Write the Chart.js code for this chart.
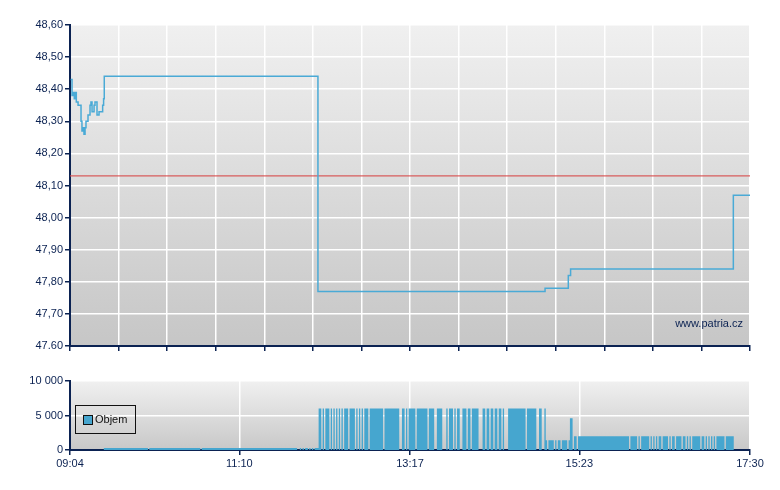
<!DOCTYPE html>
<html>
<head>
<meta charset="utf-8">
<script src="https://cdn.jsdelivr.net/npm/chart.js@4.4.1/dist/chart.umd.min.js"></script>
<style>
  body { margin: 0; background: #fff; }
  #wrap { position: relative; width: 780px; height: 490px; font-family: 'Liberation Sans', Arial, sans-serif; color: #0b2252; }
  #priceChart { position: absolute; left: 0; top: 0; }
  #volumeChart { position: absolute; left: 0; top: 360px; }
  #watermark { position: absolute; right: 37px; top: 317px; font-size: 11px; line-height: 13px; }
  #legend { position: absolute; left: 75px; top: 405px; width: 61px; height: 29px; box-sizing: border-box; border: 1px solid #111; font-size: 11px; }
  #legend span.box { position: absolute; left: 7px; top: 9px; width: 8px; height: 8px; border: 1px solid #111; }
  #legend span.txt { position: absolute; left: 19px; top: 7px; line-height: 13px; color: #111; }
</style>
</head>
<body>
<div id="wrap">
  <canvas id="priceChart" width="780" height="360"></canvas>
  <canvas id="volumeChart" width="780" height="130"></canvas>
  <div id="watermark">www.patria.cz</div>
  <div id="legend"></div>
</div>
<script>
// trade prices (price holds until next trade)
const priceTimes = ['09:04:30', '09:05:30', '09:06:30', '09:07:12', '09:08:00', '09:08:42', '09:10:00',
    '09:12:12', '09:12:54', '09:13:42', '09:14:24', '09:15:12', '09:15:54', '09:17:24', '09:18:54',
    '09:19:36', '09:20:24', '09:21:54', '09:22:36', '09:24:06', '09:25:36', '09:27:06', '09:28:18',
    '09:29:00', '09:29:30', '12:08:30', '14:57:30', '15:14:48', '15:16:30', '17:17:36', '17:30:00'];
const priceValues = [48.43, 48.38, 48.39, 48.37, 48.39, 48.36, 48.35,
    48.30, 48.27, 48.28, 48.26, 48.28, 48.30, 48.32, 48.35,
    48.36, 48.33, 48.35, 48.36, 48.32, 48.33, 48.33, 48.35,
    48.37, 48.44, 47.77, 47.78, 47.82, 47.84, 48.07, 48.07];
const prevClose = 48.13;

const priceTicks = [47.6, 47.7, 47.8, 47.9, 48.0, 48.1, 48.2, 48.3, 48.4, 48.5, 48.6];
const priceTickLabels = ['47.60', '47,70', '47,80', '47,90', '48,00', '48,10', '48,20', '48,30', '48,40', '48,50', '48,60'];

// volume: [from, to, amount] per run of minutes with trades
const volumeRuns = [
    ['09:29', '10:02', 300], ['10:03', '10:41', 300], ['10:42', '11:53', 300], ['11:55', '11:56', 300],
    ['11:57', '11:58', 300], ['11:59', '12:01', 300], ['12:02', '12:03', 300], ['12:04', '12:05', 300],
    ['12:06', '12:09', 300],
    ['12:09', '12:11', 6000], ['12:12', '12:13', 6000], ['12:14', '12:17', 6000], ['12:18', '12:19', 6000],
    ['12:20', '12:21', 6000], ['12:22', '12:23', 6000], ['12:24', '12:25', 6000], ['12:26', '12:27', 6000],
    ['12:28', '12:31', 6000], ['12:32', '12:36', 6000], ['12:37', '12:38', 6000], ['12:39', '12:40', 6000],
    ['12:41', '12:42', 6000], ['12:43', '12:46', 6000], ['12:47', '12:57', 6000], ['12:58', '13:09', 6000],
    ['13:11', '13:13', 6000], ['13:14', '13:15', 6000], ['13:16', '13:21', 6000], ['13:22', '13:30', 6000],
    ['13:31', '13:35', 6000], ['13:37', '13:41', 6000], ['13:44', '13:45', 6000], ['13:46', '13:49', 6000],
    ['13:50', '13:51', 6000], ['13:52', '13:54', 6000], ['13:56', '13:59', 6000], ['14:00', '14:02', 6000],
    ['14:03', '14:08', 6000], ['14:11', '14:13', 6000], ['14:14', '14:16', 6000], ['14:17', '14:19', 6000],
    ['14:20', '14:22', 6000], ['14:23', '14:25', 6000], ['14:26', '14:27', 6000], ['14:30', '14:43', 6000],
    ['14:44', '14:51', 6000], ['14:53', '14:55', 6000], ['14:57', '14:58', 6000],
    ['14:58', '14:59', 1400], ['15:00', '15:04', 1400], ['15:05', '15:06', 1400], ['15:07', '15:09', 1400],
    ['15:10', '15:14', 1400], ['15:15', '15:16', 1400],
    ['15:16', '15:18', 4600],
    ['15:19', '15:21', 2000], ['15:22', '16:00', 2000], ['16:01', '16:06', 2000], ['16:07', '16:08', 2000],
    ['16:09', '16:15', 2000], ['16:16', '16:17', 2000], ['16:18', '16:19', 2000], ['16:20', '16:21', 2000],
    ['16:22', '16:24', 2000], ['16:25', '16:29', 2000], ['16:30', '16:31', 2000], ['16:32', '16:34', 2000],
    ['16:35', '16:39', 2000], ['16:40', '16:42', 2000], ['16:43', '16:44', 2000], ['16:45', '16:46', 2000],
    ['16:47', '16:53', 2000], ['16:54', '16:56', 2000], ['16:57', '16:58', 2000], ['16:59', '17:00', 2000],
    ['17:01', '17:02', 2000], ['17:03', '17:04', 2000], ['17:05', '17:11', 2000], ['17:12', '17:18', 2000]
];
const volumeTicks = [0, 5000, 10000];
const volumeTickLabels = ['0', '5 000', '10 000'];
const timeTickLabels = ['09:04', '11:10', '13:17', '15:23', '17:30'];

const navy = '#0b2252';
const lineBlue = '#4aaad6';
const barBlue = '#46a6cf';

function toMin(t) {
    const p = t.split(':').map(Number);
    return p[0] * 60 + p[1] + (p[2] || 0) / 60;
}

const tMin = toMin(timeTickLabels[0]);
const tMax = toMin(timeTickLabels[timeTickLabels.length - 1]);

// 14 equal intervals on the price chart's time axis
const priceGridTimes = [];
for (let i = 0; i <= 14; i++) {
    priceGridTimes.push(tMin + i * (tMax - tMin) / 14);
}

const plotBackground = {
    id: 'plotBackground',
    beforeDraw(chart, args, opts) {
        const { ctx, chartArea: a } = chart;
        const g = ctx.createLinearGradient(0, a.top, 0, a.bottom);
        g.addColorStop(0, opts.from);
        g.addColorStop(1, opts.to);
        ctx.save();
        ctx.fillStyle = g;
        ctx.fillRect(a.left, a.top, a.right - a.left, a.bottom - a.top);
        ctx.restore();
    }
};

const tickFont = { family: "'Liberation Sans', Arial, sans-serif", size: 11 };

new Chart(document.getElementById('priceChart'), {
    type: 'line',
    data: {
        datasets: [{
            label: 'Kurz',
            data: priceTimes.map((t, i) => ({ x: toMin(t), y: priceValues[i] })),
            borderColor: lineBlue,
            borderWidth: 1.5,
            pointRadius: 0,
            stepped: true
        }, {
            label: 'Předchozí závěr',
            data: [{ x: tMin, y: prevClose }, { x: tMax, y: prevClose }],
            borderColor: 'rgba(215, 70, 70, 0.85)',
            borderWidth: 1.2,
            pointRadius: 0
        }]
    },
    options: {
        responsive: false,
        animation: false,
        layout: { padding: { top: 25, right: 30, left: 0, bottom: 0 } },
        plugins: {
            legend: { display: false },
            tooltip: { enabled: false },
            plotBackground: { from: '#f0f0f0', to: '#c6c6c6' }
        },
        scales: {
            x: {
                type: 'linear',
                min: tMin,
                max: tMax,
                afterBuildTicks: s => { s.ticks = priceGridTimes.map(v => ({ value: v })); },
                afterFit: s => { s.height = 14; },
                ticks: { display: false },
                grid: { color: '#ffffff', lineWidth: 1.5, tickColor: navy, tickLength: 5 },
                border: { color: navy, width: 2 }
            },
            y: {
                min: priceTicks[0],
                max: priceTicks[priceTicks.length - 1],
                afterBuildTicks: s => { s.ticks = priceTicks.map(v => ({ value: v })); },
                afterFit: s => { s.width = 70; },
                ticks: {
                    callback: (v, i) => priceTickLabels[i],
                    color: navy,
                    font: tickFont,
                    padding: 2
                },
                grid: { color: '#ffffff', lineWidth: 1.5, tickColor: navy, tickLength: 5 },
                border: { color: navy, width: 2 }
            }
        }
    },
    plugins: [plotBackground]
});

const volumePoints = [];
volumeRuns.forEach(([from, to, v]) => {
    volumePoints.push({ x: toMin(from), y: v }, { x: toMin(to), y: 0 });
});

const volumeChart = new Chart(document.getElementById('volumeChart'), {
    type: 'line',
    data: {
        datasets: [{
            label: 'Objem',
            data: volumePoints,
            backgroundColor: barBlue,
            borderWidth: 0,
            pointRadius: 0,
            stepped: true,
            fill: 'origin'
        }]
    },
    options: {
        responsive: false,
        animation: false,
        layout: { padding: { top: 21, right: 30, left: 0, bottom: 0 } },
        plugins: {
            legend: { display: false },
            tooltip: { enabled: false },
            plotBackground: { from: '#f0f0f0', to: '#c8c8c8' }
        },
        scales: {
            x: {
                type: 'linear',
                min: tMin,
                max: tMax,
                afterBuildTicks: s => { s.ticks = timeTickLabels.map(t => ({ value: toMin(t) })); },
                afterFit: s => { s.height = 40; },
                ticks: {
                    callback: (v, i) => timeTickLabels[i],
                    color: navy,
                    font: tickFont,
                    padding: 2,
                    maxRotation: 0
                },
                grid: { color: '#ffffff', lineWidth: 1.5, tickColor: navy, tickLength: 5 },
                border: { color: navy, width: 2 }
            },
            y: {
                min: volumeTicks[0],
                max: volumeTicks[volumeTicks.length - 1],
                afterBuildTicks: s => { s.ticks = volumeTicks.map(v => ({ value: v })); },
                afterFit: s => { s.width = 70; },
                ticks: {
                    callback: (v, i) => volumeTickLabels[i],
                    color: navy,
                    font: tickFont,
                    padding: 2
                },
                grid: { color: '#ffffff', lineWidth: 1.5, tickColor: navy, tickLength: 5 },
                border: { color: navy, width: 2 }
            }
        }
    },
    plugins: [plotBackground]
});

// legend box drawn inside the volume plot, like the original
const ds = volumeChart.data.datasets[0];
document.getElementById('legend').innerHTML =
    '<span class="box" style="background:' + ds.backgroundColor + '"></span><span class="txt">' + ds.label + '</span>';
</script>
</body>
</html>
